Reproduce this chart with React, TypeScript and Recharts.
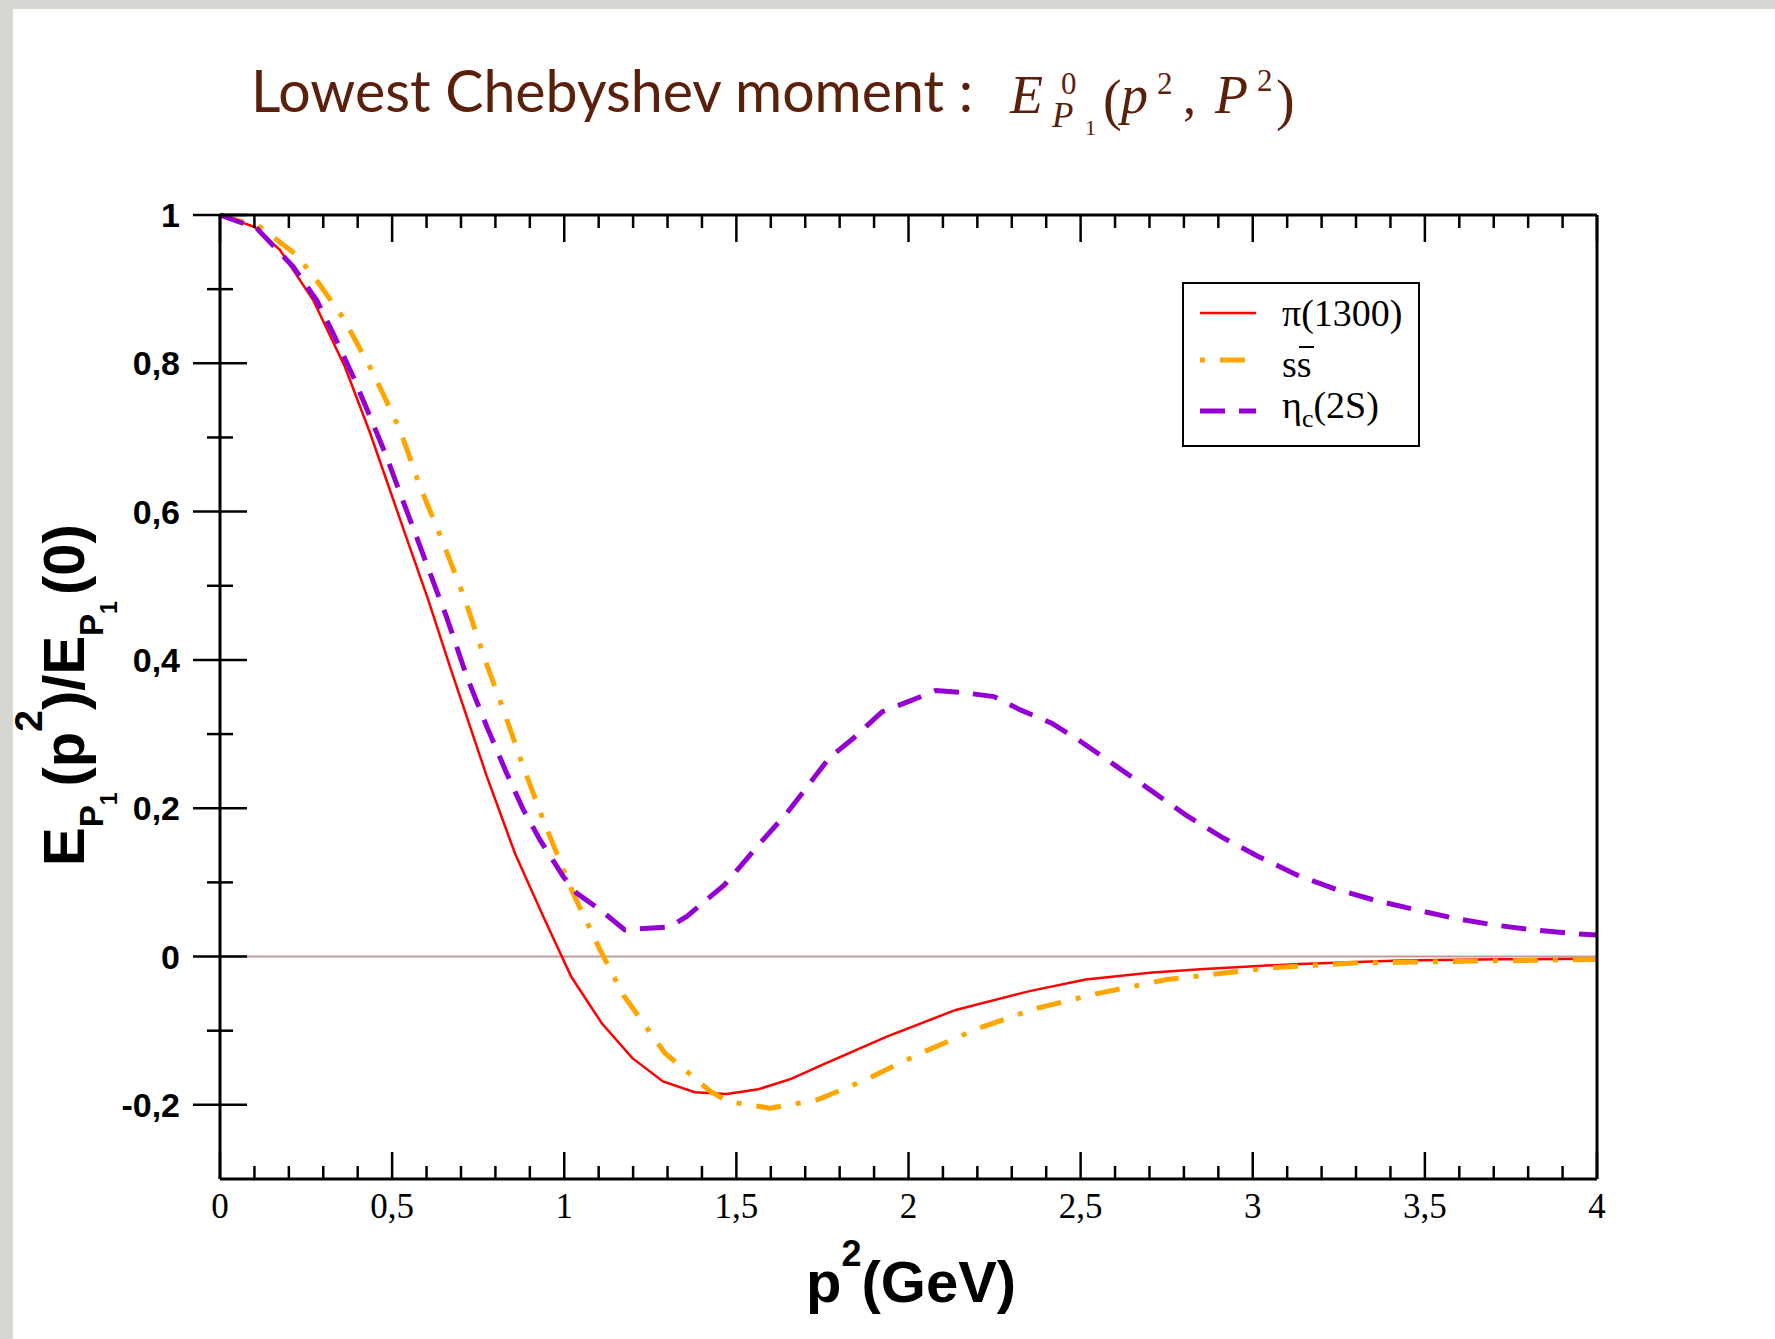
import { LineChart, Line, XAxis, YAxis, ReferenceLine } from "recharts";

// p^2 (GeV) grid and normalised moment E_P1(p^2)/E_P1(0) for each state
const pionP2 = [0, 0.1, 0.174, 0.271, 0.363, 0.436, 0.537, 0.605, 0.668, 0.775, 0.857, 0.939, 1.02, 1.109, 1.198, 1.287, 1.379, 1.472, 1.564, 1.659, 1.759, 1.937, 2.137, 2.348, 2.515, 2.701, 2.847, 3.137, 3.428, 3.718, 4.0];
const pionE = [1.0, 0.984, 0.953, 0.885, 0.795, 0.706, 0.571, 0.481, 0.391, 0.243, 0.139, 0.054, -0.027, -0.09, -0.137, -0.1685, -0.183, -0.1855, -0.179, -0.165, -0.144, -0.108, -0.072, -0.047, -0.031, -0.022, -0.017, -0.0099, -0.0055, -0.0037, -0.003];

const ssbarP2 = [0, 0.116, 0.223, 0.29, 0.358, 0.445, 0.523, 0.581, 0.649, 0.712, 0.77, 0.823, 0.881, 0.939, 1.026, 1.104, 1.172, 1.292, 1.425, 1.475, 1.598, 1.737, 1.876, 2.037, 2.204, 2.37, 2.548, 2.75, 3.04, 3.28, 3.57, 4.0];
const ssbarE = [1.0, 0.984, 0.946, 0.906, 0.861, 0.787, 0.71, 0.634, 0.557, 0.481, 0.4, 0.333, 0.256, 0.184, 0.085, 0.009, -0.052, -0.13, -0.182, -0.1955, -0.2045, -0.193, -0.166, -0.13, -0.0966, -0.07, -0.05, -0.031, -0.0157, -0.009, -0.0067, -0.004];

const etacP2 = [0, 0.107, 0.213, 0.281, 0.329, 0.387, 0.436, 0.484, 0.523, 0.571, 0.61, 0.658, 0.717, 0.775, 0.833, 0.881, 0.93, 0.997, 1.036, 1.104, 1.176, 1.307, 1.356, 1.466, 1.569, 1.646, 1.714, 1.77, 1.839, 1.923, 2.001, 2.079, 2.157, 2.248, 2.325, 2.416, 2.494, 2.598, 2.702, 2.805, 2.91, 3.016, 3.128, 3.234, 3.35, 3.466, 3.583, 3.699, 3.815, 3.941, 4.0];
const etacE = [1.0, 0.982, 0.93, 0.885, 0.84, 0.782, 0.728, 0.674, 0.625, 0.566, 0.517, 0.458, 0.3775, 0.31, 0.247, 0.198, 0.157, 0.108, 0.0855, 0.063, 0.036, 0.04, 0.054, 0.097, 0.153, 0.193, 0.234, 0.268, 0.294, 0.33, 0.344, 0.3587, 0.356, 0.3506, 0.3326, 0.3147, 0.292, 0.2585, 0.2248, 0.191, 0.161, 0.135, 0.11, 0.092, 0.0765, 0.0639, 0.0518, 0.0427, 0.036, 0.0306, 0.029];

const xMajor = [0, 0.5, 1, 1.5, 2, 2.5, 3, 3.5, 4];
const xLabels = ["0", "0,5", "1", "1,5", "2", "2,5", "3", "3,5", "4"];
const yMajor = [-0.2, 0, 0.2, 0.4, 0.6, 0.8, 1];
const yLabels = ["-0,2", "0", "0,2", "0,4", "0,6", "0,8", "1"];

const toPoints = (xs: number[], ys: number[]) => xs.map((p2, i) => ({ p2, ratio: ys[i] }));

const series = [
  { key: "pion", name: "π(1300)", data: toPoints(pionP2, pionE), color: "#ff0000", width: 2.5, dash: undefined as string | undefined },
  { key: "ssbar", name: "ss̄", data: toPoints(ssbarP2, ssbarE), color: "#ffa500", width: 5, dash: "25 15 5 15" },
  { key: "etac", name: "ηc(2S)", data: toPoints(etacP2, etacE), color: "#9400d3", width: 5, dash: "25 14" },
];

// minor ticks every 0.1 on both axes
const xTicks = Array.from({ length: 41 }, (_, i) => i / 10);
const yTicks = Array.from({ length: 13 }, (_, i) => (i - 2) / 10);

const W = 1775;
const H = 1339;
// plot box: x 220..1597, y 215..1179 (axis bands of 60px are taken out of these margins)
const PLOT_TOP = 215;
const AX = 60;
const margin = { top: PLOT_TOP - AX, right: 178 - AX, bottom: 160 - AX, left: 220 - AX };

const majorIndex = (list: number[], v: number) => list.findIndex((m) => Math.abs(m - v) < 1e-6);
const tickLine = { stroke: "#000", strokeWidth: 2.5 };
const serif = "'Liberation Serif', 'Times New Roman', serif";
const sans = "'Liberation Sans', Arial, sans-serif";
const brown = "#5b200c";

// bottom axis tick: inward tick on the bottom edge, mirrored one on the top edge, and the label
function BottomTick({ x, y, payload }: any) {
  const i = majorIndex(xMajor, payload.value);
  const len = i >= 0 ? 27 : 13;
  return (
    <g>
      <line x1={x} x2={x} y1={y} y2={y - len} {...tickLine} />
      <line x1={x} x2={x} y1={PLOT_TOP} y2={PLOT_TOP + len} {...tickLine} />
      {i >= 0 && (
        <text x={x} y={y + 39} textAnchor="middle" fontFamily={serif} fontSize={35} fill="#000">
          {xLabels[i]}
        </text>
      )}
    </g>
  );
}

function LeftTick({ x, y, payload }: any) {
  const i = majorIndex(yMajor, payload.value);
  const len = i >= 0 ? 27 : 13;
  return (
    <g>
      <line x1={x - len} x2={x + len} y1={y} y2={y} {...tickLine} />
      {i >= 0 && (
        <text x={x - 40} y={y + 12} textAnchor="end" fontFamily={sans} fontWeight="bold" fontSize={34} fill="#000">
          {yLabels[i]}
        </text>
      )}
    </g>
  );
}

function Overlay() {
  const rows = [313, 360, 411];
  return (
    <svg width={W} height={H} style={{ position: "absolute", left: 0, top: 0, pointerEvents: "none" }}>
      {/* title */}
      <text x={251} y={112} fontFamily="Lato, 'Open Sans', sans-serif" fontSize={58} fill={brown} textLength={722} lengthAdjust="spacingAndGlyphs">
        Lowest Chebyshev moment :
      </text>
      <g fontFamily={serif} fill={brown}>
        <text x={1010} y={113} fontSize={54} fontStyle="italic">E</text>
        <text x={1061} y={94} fontSize={31}>0</text>
        <text x={1052} y={127} fontSize={35} fontStyle="italic">P</text>
        <text x={1085} y={135} fontSize={22}>1</text>
        <text x={1103} y={119} fontSize={56}>(</text>
        <text x={1121} y={113} fontSize={54} fontStyle="italic">p</text>
        <text x={1157} y={94} fontSize={31}>2</text>
        <text x={1183} y={113} fontSize={52}>,</text>
        <text x={1215} y={113} fontSize={54} fontStyle="italic">P</text>
        <text x={1257} y={91} fontSize={31}>2</text>
        <text x={1276} y={119} fontSize={56}>)</text>
      </g>

      {/* axis titles */}
      <text x={806} y={1302} fontFamily={sans} fontWeight="bold" fontSize={58} fill="#000">
        <tspan>p</tspan>
        <tspan fontSize={36} dy={-36}>2</tspan>
        <tspan dy={36}>(GeV)</tspan>
      </text>
      <text transform="translate(84,866) rotate(-90)" fontFamily={sans} fontWeight="bold" fontSize={58} fill="#000">
        <tspan>E</tspan>
        <tspan fontSize={33} dy={19}>P</tspan>
        <tspan fontSize={23} dy={14}>1</tspan>
        <tspan dx={6} dy={-33}>(p</tspan>
        <tspan fontSize={39} dy={-42}>2</tspan>
        <tspan dy={42}>)/E</tspan>
        <tspan fontSize={33} dy={19}>P</tspan>
        <tspan fontSize={23} dy={14}>1</tspan>
        <tspan dx={6} dy={-33}>(0)</tspan>
      </text>

      {/* legend */}
      <rect x={1183} y={283} width={236} height={163} fill="#fff" stroke="#000" strokeWidth={2} />
      {series.map((s, i) => (
        <line
          key={s.key}
          x1={1200}
          x2={1256}
          y1={rows[i]}
          y2={rows[i]}
          stroke={s.color}
          strokeWidth={s.width}
          strokeDasharray={s.dash}
          strokeDashoffset={s.key === "ssbar" ? 40 : 0}
        />
      ))}
      <g fontFamily={serif} fontSize={38} fill="#000">
        <text x={1282} y={326}>π(1300)</text>
        <text x={1282} y={377}>ss</text>
        <line x1={1299} x2={1314} y1={347} y2={347} stroke="#000" strokeWidth={2} />
        <text x={1282} y={418}>
          <tspan>η</tspan>
          <tspan fontSize={26} dy={9}>c</tspan>
          <tspan dy={-9}>(2S)</tspan>
        </text>
      </g>
    </svg>
  );
}

export default function App() {
  const frame = { stroke: "#000", strokeWidth: 3 };
  return (
    <div style={{ position: "absolute", left: 0, top: 0, width: W, height: H, background: "#d8d6d1", overflow: "hidden" }}>
      <div style={{ position: "absolute", left: 13, top: 9, right: 0, bottom: 0, background: "#fff" }} />
      <div style={{ position: "absolute", left: 0, top: 0 }}>
        <LineChart width={W} height={H} margin={margin}>
          <XAxis
            xAxisId={0}
            dataKey="p2"
            type="number"
            domain={[0, 4]}
            ticks={xTicks}
            interval={0}
            height={AX}
            tickSize={0}
            tickMargin={0}
            tickLine={false}
            axisLine={frame}
            tick={<BottomTick />}
          />
          <XAxis
            xAxisId="top"
            orientation="top"
            dataKey="p2"
            type="number"
            domain={[0, 4]}
            height={AX}
            tick={false}
            tickLine={false}
            axisLine={frame}
          />
          <YAxis
            yAxisId={0}
            type="number"
            domain={[-0.3, 1]}
            ticks={yTicks}
            interval={0}
            width={AX}
            tickSize={0}
            tickMargin={0}
            tickLine={false}
            axisLine={frame}
            tick={<LeftTick />}
          />
          <YAxis yAxisId="right" orientation="right" type="number" domain={[-0.3, 1]} width={AX} tick={false} tickLine={false} axisLine={frame} />
          <ReferenceLine y={0} stroke="#bf9c9c" strokeWidth={2} />
          {series.map((s) => (
            <Line
              key={s.key}
              data={s.data}
              dataKey="ratio"
              name={s.name}
              type="linear"
              stroke={s.color}
              strokeWidth={s.width}
              strokeDasharray={s.dash}
              dot={false}
              activeDot={false}
              isAnimationActive={false}
            />
          ))}
        </LineChart>
      </div>
      <Overlay />
    </div>
  );
}
